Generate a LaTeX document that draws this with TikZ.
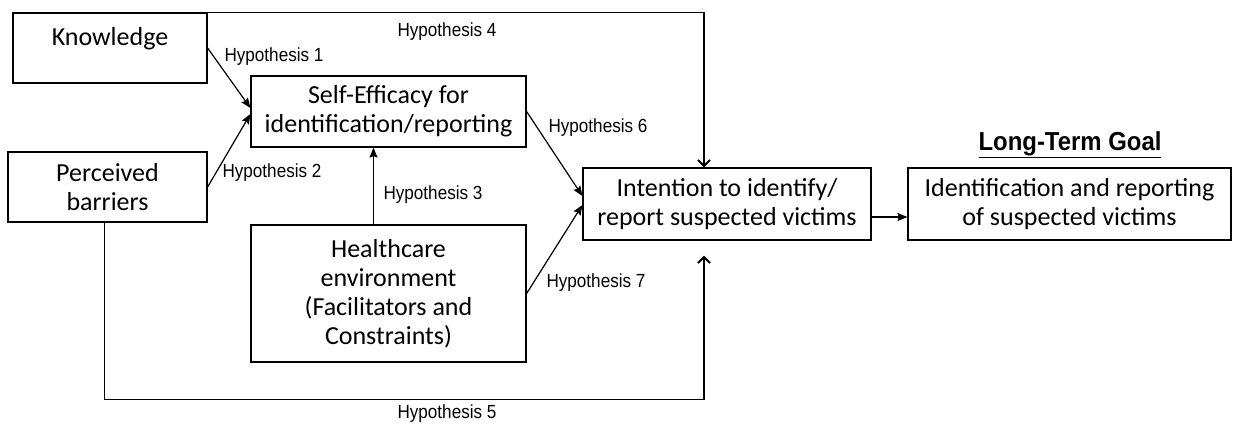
\documentclass[tikz,border=0pt]{standalone}
\usepackage{fontspec}
\setmainfont{Carlito}
\newfontfamily\arialf{Liberation Sans}
\usetikzlibrary{arrows.meta,calc}
\newcommand{\hyptext}[1]{\scalebox{0.9}[1]{#1}}
\begin{document}
\begin{tikzpicture}[x=1pt,y=-1pt,
  box/.style={draw,line width=1.2pt,inner sep=0pt,align=center,
    font=\fontsize{26}{29}\selectfont},
  hyp/.style={font=\arialf\fontsize{19}{22}\selectfont,inner sep=0pt},
  conn/.style={line width=1.2pt},
  filled/.style={conn,-{Stealth[length=10pt,width=8pt,inset=1.5pt]}},
  open/.style={conn,-{Straight Barb[length=6pt,width=12pt,line width=2pt]}}
]
\useasboundingbox (0,0) rectangle (1239,423);
\node[box,minimum width=194pt,minimum height=70pt,
  label={[anchor=north,yshift=-15pt,font=\fontsize{26}{29}\selectfont,inner sep=0pt]north:Knowledge}] (kn) at (110,48) {};
\node[box,minimum width=199pt,minimum height=70pt] (pb) at (107.5,187) {Perceived\\barriers};
\node[box,minimum width=275pt,minimum height=71pt] (se) at (388.5,111.5) {Self-Efficacy for\\identification/reporting};
\node[box,minimum width=275pt,minimum height=137pt] (hc) at (388.5,293.5) {Healthcare\\environment\\(Facilitators and\\Constraints)};
\node[box,minimum width=288pt,minimum height=72pt] (int) at (727,204) {Intention to identify/\\report suspected victims};
\node[box,minimum width=323pt,minimum height=72pt] (goal) at (1069.5,204) {Identification and reporting\\of suspected victims};
\node[font=\arialf\bfseries\fontsize{26}{30}\selectfont,inner sep=0pt] (ltg) at (1070,145) {\scalebox{0.92}[1]{\underline{Long-Term Goal}}};

\coordinate (h4end) at ($(int.north)+(-23,0)$);
\coordinate (h5start) at ($(pb.south)+(-3,0)$);
\coordinate (h5end) at ($(int.south)+(-23,15)$);
\coordinate (h5low) at ($(h5start)+(0,177)$);

\draw[filled] (kn.east) -- ($(se.west)+(0,-3.5)$);
\draw[filled] (pb.east) -- ($(se.west)+(0,2.5)$);
\draw[filled] ($(hc.north)+(-15,0)$) -- ($(se.south)+(-15,0)$);
\draw[filled] (se.east) -- ($(int.west)+(0,-8)$);
\draw[filled] (hc.east) -- ($(int.west)+(0,1)$);
\draw[open] (kn.north east) -| (h4end);
\draw[open] (h5start) -- (h5low) -| (h5end);
\draw[filled] ($(int.east)+(0,13)$) -- ($(goal.west)+(0,13)$);

\node[hyp] (l1) at (274,57) {\hyptext{Hypothesis 1}};
\node[hyp] (l2) at (272,173) {\hyptext{Hypothesis 2}};
\node[hyp] (l3) at (433,195) {\hyptext{Hypothesis 3}};
\node[hyp] (l4) at (447,32) {\hyptext{Hypothesis 4}};
\node[hyp] (l5) at (447,414) {\hyptext{Hypothesis 5}};
\node[hyp] (l6) at (598,128) {\hyptext{Hypothesis 6}};
\node[hyp] (l7) at (596,283) {\hyptext{Hypothesis 7}};
\end{tikzpicture}
\end{document}
